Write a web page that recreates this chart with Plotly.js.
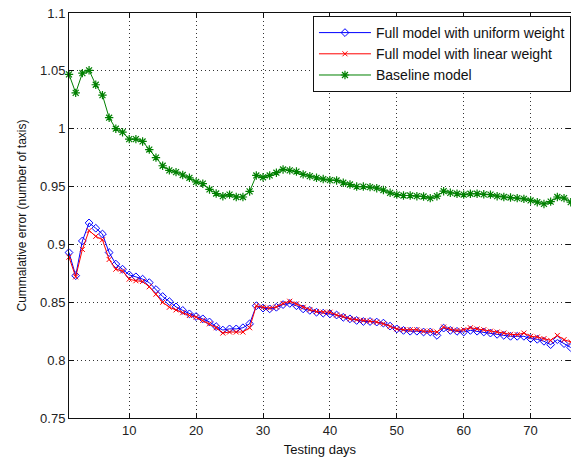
<!DOCTYPE html>
<html>
<head>
<meta charset="utf-8">
<script src="https://cdn.plot.ly/plotly-3.0.1.min.js"></script>
<style>html,body{margin:0;padding:0;background:#fff;}#chart{width:571px;height:462px;}</style>
</head>
<body>
<div id="chart"></div>
<script>
const days = Array.from({length: 76}, (_, i) => i + 1);

const uniformWeight = [
  0.893, 0.873, 0.903, 0.9186, 0.914, 0.909, 0.893, 0.883, 0.8786, 0.8737,
  0.872, 0.870, 0.867, 0.861, 0.855, 0.8506, 0.846, 0.843, 0.840, 0.8377,
  0.8357, 0.833, 0.829, 0.826, 0.827, 0.827, 0.828, 0.8314, 0.847, 0.845,
  0.8443, 0.8457, 0.848, 0.849, 0.847, 0.8443, 0.843, 0.8414, 0.8406, 0.840,
  0.839, 0.837, 0.8357, 0.8343, 0.8334, 0.8334, 0.8329, 0.832, 0.8294, 0.827,
  0.8257, 0.825, 0.825, 0.8243, 0.8243, 0.8214, 0.8277, 0.8257, 0.8249, 0.8243,
  0.8257, 0.825, 0.8243, 0.8234, 0.8223, 0.8214, 0.8206, 0.8206, 0.8206, 0.8186,
  0.818, 0.8163, 0.8134, 0.8177, 0.8143, 0.8109
];

const linearWeight = [
  0.889, 0.872, 0.8957, 0.912, 0.907, 0.904, 0.887, 0.8786, 0.877, 0.870,
  0.8686, 0.868, 0.8634, 0.857, 0.850, 0.8457, 0.8434, 0.841, 0.8386, 0.8371,
  0.8343, 0.8314, 0.828, 0.8234, 0.8243, 0.8243, 0.8243, 0.828, 0.847, 0.8457,
  0.845, 0.846, 0.849, 0.8509, 0.8486, 0.8457, 0.8437, 0.842, 0.8414, 0.8414,
  0.839, 0.8377, 0.8357, 0.8349, 0.8343, 0.8337, 0.8329, 0.8314, 0.8291, 0.827,
  0.8263, 0.8263, 0.8263, 0.825, 0.825, 0.8243, 0.8286, 0.8266, 0.8257, 0.8263,
  0.828, 0.827, 0.8263, 0.825, 0.8243, 0.8234, 0.8223, 0.822, 0.8234, 0.8206,
  0.820, 0.8186, 0.8171, 0.8214, 0.8177, 0.8157
];

const baseline = [
  1.047, 1.031, 1.048, 1.0505, 1.038, 1.029, 1.0095, 1.000, 0.997, 0.991,
  0.991, 0.989, 0.982, 0.975, 0.968, 0.964, 0.9625, 0.960, 0.9576, 0.954,
  0.9525, 0.9475, 0.944, 0.9417, 0.943, 0.941, 0.941, 0.9458, 0.9596, 0.958,
  0.9596, 0.962, 0.9648, 0.964, 0.963, 0.9605, 0.959, 0.9576, 0.9565, 0.9556,
  0.9553, 0.9533, 0.9518, 0.950, 0.950, 0.9495, 0.9486, 0.947, 0.9446, 0.943,
  0.9423, 0.9423, 0.9417, 0.9414, 0.940, 0.9417, 0.946, 0.9446, 0.9438, 0.943,
  0.9438, 0.9438, 0.9433, 0.943, 0.9417, 0.941, 0.9405, 0.940, 0.9394, 0.938,
  0.9365, 0.935, 0.937, 0.941, 0.940, 0.9365
];

const seriesNames = ['Full model with uniform weight', 'Full model with linear weight', 'Baseline model'];
const xTicks = [10, 20, 30, 40, 50, 60, 70];
const yTicks = [0.75, 0.8, 0.85, 0.9, 0.95, 1, 1.05, 1.1];
const yTickText = ['0.75', '0.8', '0.85', '0.9', '0.95', '1', '1.05', '1.1'];

const traces = [
  {x: days, y: uniformWeight, name: seriesNames[0], mode: 'lines+markers', cliponaxis: false,
   line: {color: 'rgb(0,0,255)', width: 1},
   marker: {symbol: 'diamond-open', size: 6, color: 'rgb(0,0,255)', line: {width: 1, color: 'rgb(0,0,255)'}}},
  {x: days, y: linearWeight, name: seriesNames[1], mode: 'lines+markers', cliponaxis: false,
   line: {color: 'rgb(255,0,0)', width: 1},
   marker: {symbol: 'x-thin-open', size: 5, color: 'rgb(255,0,0)', line: {width: 1, color: 'rgb(255,0,0)'}}},
  {x: days, y: baseline, name: seriesNames[2], mode: 'lines+markers', cliponaxis: false,
   line: {color: 'rgb(0,128,0)', width: 1},
   marker: {symbol: 'asterisk-open', size: 7, color: 'rgb(0,128,0)', line: {width: 1.2, color: 'rgb(0,128,0)'}}}
];

const axisCommon = {
  showline: true, linecolor: '#111', linewidth: 1, mirror: 'ticks',
  ticks: 'inside', ticklen: 5, tickcolor: '#111', tickwidth: 1,
  showgrid: true, gridcolor: '#333', gridwidth: 1, griddash: '1px,3px',
  zeroline: false,
  tickfont: {family: 'Liberation Sans, Arial, sans-serif', size: 13, color: '#222'}
};

const layout = {
  width: 571, height: 462,
  margin: {l: 69, r: 0, t: 13, b: 44},
  paper_bgcolor: '#fff', plot_bgcolor: '#fff',
  showlegend: true,
  legend: {
    x: 0.486, y: 0.9926, xanchor: 'left', yanchor: 'top',
    bgcolor: '#fff', bordercolor: '#111', borderwidth: 1,
    itemwidth: 52,
    font: {family: 'Liberation Sans, Arial, sans-serif', size: 14, color: '#111'},
    tracegroupgap: 0
  },
  xaxis: Object.assign({}, axisCommon, {
    range: [1, 76.04], tickmode: 'array', tickvals: xTicks,
    title: {text: 'Testing days', standoff: 8,
      font: {family: 'Liberation Sans, Arial, sans-serif', size: 13, color: '#111'}},
    automargin: false
  }),
  yaxis: Object.assign({}, axisCommon, {
    range: [0.75, 1.1], tickmode: 'array', tickvals: yTicks, ticktext: yTickText,
    title: {text: 'Cummalative error (number of taxis)', standoff: 10,
      font: {family: 'Liberation Sans, Arial, sans-serif', size: 12, color: '#111'}},
    automargin: false
  })
};

Plotly.newPlot('chart', traces, layout, {displayModeBar: false, staticPlot: true});
</script>
</body>
</html>
